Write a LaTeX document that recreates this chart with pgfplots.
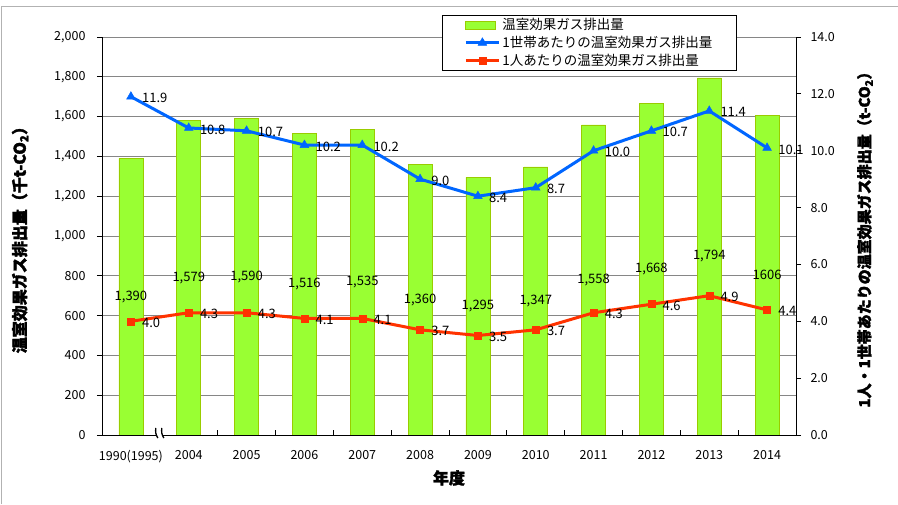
\documentclass[border=0pt]{standalone}
\usepackage{pgfplots}
\usepackage{pgfplotstable}
\pgfplotsset{compat=1.18}
\usepackage{fontspec}
\setmainfont{Noto Sans CJK JP}[BoldFeatures={FakeBold=2}]
\definecolor{barfill}{RGB}{153,255,51}
\definecolor{barline}{RGB}{153,204,0}
\definecolor{lblue}{RGB}{0,102,255}
\definecolor{lred}{RGB}{255,51,0}
\definecolor{gridgray}{RGB}{134,134,134}

% x: category index, total: 1000 t-CO2, house / person: t-CO2
\pgfplotstableread{
x total lbl   house person
0 1390 1,390  11.9  4.0
1 1579 1,579  10.8  4.3
2 1590 1,590  10.7  4.3
3 1516 1,516  10.2  4.1
4 1535 1,535  10.2  4.1
5 1360 1,360  9.0   3.7
6 1295 1,295  8.4   3.5
7 1347 1,347  8.7   3.7
8 1558 1,558  10.0  4.3
9 1668 1,668  10.7  4.6
10 1794 1,794 11.4  4.9
11 1606 1606  10.1  4.4
}\emissions

\pgfplotsset{
  base/.style={
    at={(102pt,69pt)}, anchor=south west,
    scale only axis, width=694pt, height=398pt,
    xmin=-0.5, xmax=11.5,
    /pgf/number format/assume math mode=true,
    tick label style={font=\fontsize{12.5}{13}\selectfont, black},
    axis line style={-, black, line width=0.8pt},
    tick style={black, line width=0.8pt},
    major tick length=5pt,
  },
  mylinelegend/.style={legend image code/.code={
    \draw[mark repeat=2, mark phase=2, ##1] plot coordinates {(0pt,0pt) (16.5pt,0pt) (33pt,0pt)};}},
  mybarlegend/.style={legend image code/.code={
    \draw[##1] (0pt,-4pt) rectangle (30pt,4pt);}},
}

\begin{document}
\begin{tikzpicture}
\useasboundingbox (0pt,0pt) rectangle (898pt,504pt);
\fill[white] (0pt,0pt) rectangle (898pt,504pt);
\draw[gray!60, line width=1pt] (1.5pt,0pt) -- (1.5pt,497.5pt) -- (898pt,497.5pt);

% left axis: bars
\begin{axis}[base, clip=false,
  ymin=0, ymax=2000, ytick={0,200,...,2000},
  axis x line*=bottom, axis y line*=left,
  ytick align=outside, xtick align=inside,
  ymajorgrids, grid style={gridgray, line width=0.8pt},
  % ticks at the category boundaries, names as extra ticks without tick marks
  xtick={1.5,2.5,...,10.5}, xticklabels={},
  extra x ticks={0,...,11},
  extra x tick labels={1990(1995),2004,2005,2006,2007,2008,2009,2010,2011,2012,2013,2014},
  extra x tick style={major tick length=0pt, xticklabel style={yshift=-12pt}},
  yticklabel style={xshift=-8pt},
  every axis y label/.style={at={(axis description cs:-0.118,0.5)}, rotate=90, anchor=center,
    font=\fontsize{16}{16}\selectfont\bfseries},
  every axis x label/.style={at={(axis description cs:0.5,-0.108)}, anchor=center,
    font=\fontsize{16}{16}\selectfont\bfseries},
  ylabel={温室効果ガス排出量（千t-CO\textsubscript{2}）},
  xlabel={年度},
]
\addplot[ybar, bar width=24pt, fill=barfill, draw=barline, line width=0.8pt]
  table[x=x, y=total] {\emissions};
\addplot[draw=none, mark=none, point meta=explicit symbolic, nodes near coords,
  visualization depends on={rawy \as \rawy},
  every node near coord/.append style={anchor=center, yshift={-0.0995*\rawy},
    font=\fontsize{13}{13}\selectfont, black, inner sep=0pt}]
  table[x=x, y=total, meta=lbl] {\emissions};
% bottom axis line and boundary ticks, drawn over the bars
\draw[black, line width=0.8pt] (axis description cs:0,0) -- (axis description cs:1,0);
\pgfplotsinvokeforeach{1.5,2.5,...,10.5}{
  \draw[black, line width=0.8pt] (axis cs:#1,0) -- ++(0pt,5pt);}
% axis break mark
\fill[white] ([xshift=-3pt,yshift=-3pt]axis cs:0.5,0) rectangle ([xshift=3pt,yshift=3pt]axis cs:0.5,0);
\draw[line width=1.3pt] ([xshift=-4pt,yshift=7pt]axis cs:0.5,0) to[bend right=20] ([xshift=-2pt,yshift=-3pt]axis cs:0.5,0);
\draw[line width=1.3pt] ([xshift=2pt,yshift=7pt]axis cs:0.5,0) to[bend right=20] ([xshift=4pt,yshift=-3pt]axis cs:0.5,0);
\end{axis}

% right axis: lines
\begin{axis}[base,
  ymin=0, ymax=14, ytick={0,2,...,14},
  axis x line=none, axis y line*=right, ytick align=outside,
  yticklabel style={xshift=6pt, /pgf/number format/.cd, fixed, fixed zerofill, precision=1},
  every axis y label/.style={at={(axis description cs:1.0994,0.5)}, rotate=90, anchor=center,
    font=\fontsize{15}{15}\selectfont\bfseries},
  ylabel={1人・1世帯あたりの温室効果ガス排出量（t-CO\textsubscript{2}）},
  legend style={at={(0.4899,1.055)}, anchor=north west, draw=black, line width=0.8pt,
    font=\fontsize{13.5}{14}\selectfont, inner xsep=22pt, inner ysep=1pt, row sep=1pt},
  legend cell align=left,
  nodes near coords={\pgfmathprintnumber[fixed,fixed zerofill,precision=1]{\pgfplotspointmeta}},
  every node near coord/.append style={anchor=west, xshift=10pt, yshift=-1.5pt,
    font=\fontsize{13}{13}\selectfont, black, inner sep=1pt},
]
\addlegendimage{mybarlegend, fill=barfill, draw=barline, line width=0.8pt}
\addlegendentry{温室効果ガス排出量}
\addplot[lblue, line width=3pt, mark=triangle*, mark size=5pt,
  mark options={solid, line width=0.5pt}, mylinelegend, point meta=y]
  table[x=x, y=house] {\emissions};
\addlegendentry{1世帯あたりの温室効果ガス排出量}
\addplot[lred, line width=3pt, mark=square*, mark size=3.5pt,
  mark options={solid, line width=0.5pt}, mylinelegend, point meta=y]
  table[x=x, y=person] {\emissions};
\addlegendentry{1人あたりの温室効果ガス排出量}
\end{axis}
\end{tikzpicture}
\end{document}
